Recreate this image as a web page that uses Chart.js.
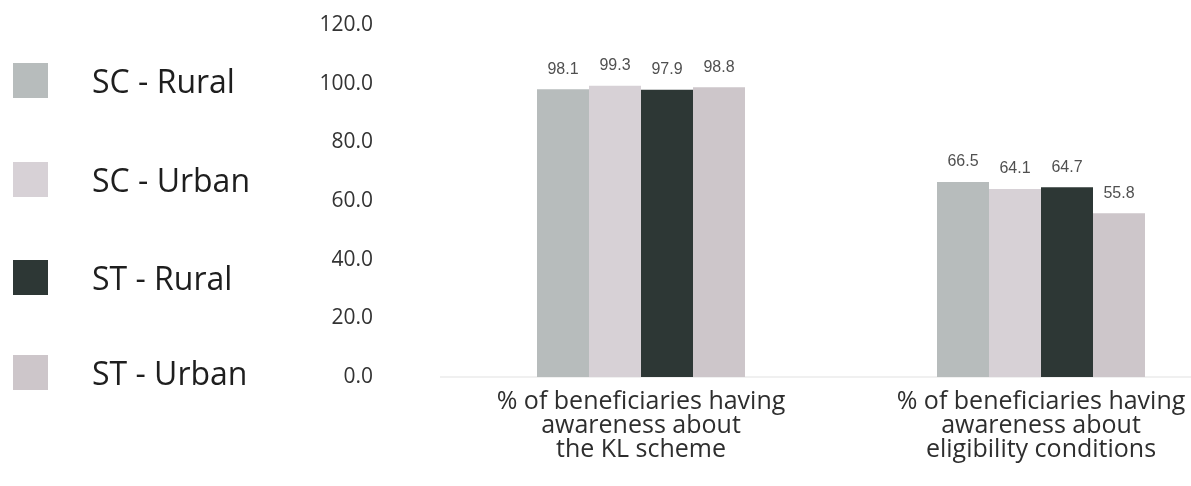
<!DOCTYPE html>
<html>
<head>
<meta charset="utf-8">
<script src="https://cdn.jsdelivr.net/npm/chart.js@4"></script>
<style>
  html, body { margin: 0; padding: 0; background: #fff; overflow: hidden; }
  #wrap { position: relative; width: 1241px; height: 486px; }
  #legend { position: absolute; left: 0; top: 0; width: 290px; height: 486px; z-index: 2; }
  .item { position: absolute; left: 13px; height: 36px; display: flex; align-items: center;
          font-family: "Open Sans", "Liberation Sans", sans-serif; font-size: 32px; color: #1e1e1e; }
  .box { width: 35px; height: 35px; margin-right: 44px; }
</style>
</head>
<body>
<div id="wrap">
  <div id="legend"></div>
  <canvas id="myChart"></canvas>
</div>
<script>
const categories = [
  ['% of beneficiaries having', 'awareness about', 'the KL scheme'],
  ['% of beneficiaries having', 'awareness about', 'eligibility conditions']
];
const seriesNames = ['SC - Rural', 'SC - Urban', 'ST - Rural', 'ST - Urban'];
const scRural = [98.1, 66.5];
const scUrban = [99.3, 64.1];
const stRural = [97.9, 64.7];
const stUrban = [98.8, 55.8];
const yTicks = [0, 20, 40, 60, 80, 100, 120];

const colors = ['#b7bcbc', '#d7d1d6', '#2d3735', '#cdc6ca'];
const values = [scRural, scUrban, stRural, stUrban];

// legend on the left, drawn as plain html
const legendTops = [62, 161, 259, 354];
const legend = document.getElementById('legend');
for (let i = 0; i < seriesNames.length; i++) {
    const item = document.createElement('div');
    item.className = 'item';
    item.style.top = legendTops[i] + 'px';
    item.innerHTML = '<div class="box" style="background:' + colors[i] + '"></div><span>' + seriesNames[i] + '</span>';
    legend.appendChild(item);
}

const valueLabels = {
    id: 'valueLabels',
    afterDatasetsDraw(chart) {
        const ctx = chart.ctx;
        ctx.save();
        ctx.font = '16px "Liberation Sans", Arial, sans-serif';
        ctx.fillStyle = '#505050';
        ctx.textAlign = 'center';
        ctx.textBaseline = 'bottom';
        chart.data.datasets.forEach((ds, i) => {
            chart.getDatasetMeta(i).data.forEach((bar, j) => {
                ctx.fillText(ds.data[j].toFixed(1), bar.x, bar.y - 12);
            });
        });
        ctx.restore();
    }
};

const data = {
    labels: categories,
    datasets: seriesNames.map((name, i) => ({
        label: name,
        data: values[i],
        backgroundColor: colors[i],
        borderColor: 'transparent',
        barPercentage: 1.0,
        categoryPercentage: 0.52
    }))
};

const config = {
    type: 'bar',
    data: data,
    options: {
        responsive: true,
        maintainAspectRatio: false,
        animation: false,
        layout: { padding: { top: 25, left: 0, right: 0, bottom: 0 } },
        plugins: { legend: { display: false }, tooltip: { enabled: false } },
        scales: {
            x: {
                grid: { display: false, drawTicks: false },
                border: { display: true, color: '#f0f0f0', width: 2 },
                ticks: {
                    padding: 13,
                    color: '#2e2e2e',
                    font: { family: '"Open Sans", "Liberation Sans", sans-serif', size: 25, lineHeight: 0.96 }
                },
                afterFit: scale => { scale.height = 109; }
            },
            y: {
                min: 0,
                max: 120,
                afterBuildTicks: scale => { scale.ticks = yTicks.map(v => ({ value: v })); },
                grid: { display: false, drawTicks: false },
                border: { display: false },
                ticks: {
                    padding: 68,
                    color: '#333',
                    font: { family: '"Open Sans", "Liberation Sans", sans-serif', size: 21 },
                    callback: v => Number(v).toFixed(1)
                },
                afterFit: scale => {
                    scale.width = 441;
                    // the big tick padding should only push labels sideways
                    scale.paddingTop = 0;
                    scale.paddingBottom = 0;
                }
            }
        }
    },
    plugins: [valueLabels]
};

const myChart = new Chart(document.getElementById('myChart'), config);
</script>
</body>
</html>
